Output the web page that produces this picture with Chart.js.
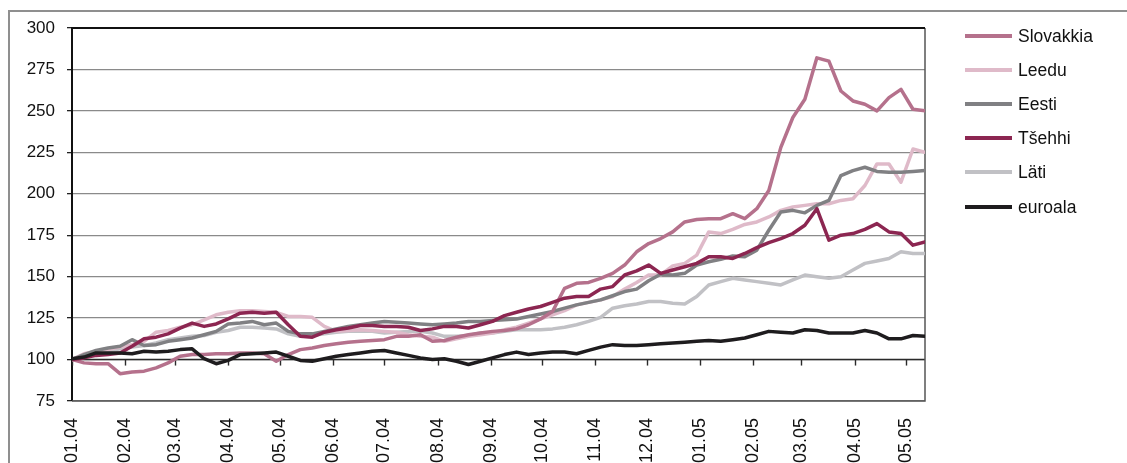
<!DOCTYPE html>
<html><head><meta charset="utf-8">
<script src="https://cdn.jsdelivr.net/npm/chart.js@4"></script>
<style>
html,body{margin:0;padding:0;background:#fff;width:1127px;height:463px;overflow:hidden;position:relative;}
#frame{position:absolute;left:8px;top:10px;width:1200px;height:500px;border-left:2px solid #8f8f8f;border-top:2px solid #8f8f8f;}
#wrap{position:absolute;left:0;top:0;width:1127px;height:463px;}
#legend{position:absolute;left:965px;top:0;font-family:"Liberation Sans",Arial,sans-serif;font-size:17.5px;color:#111;}
.item{position:absolute;left:0;height:20px;display:flex;align-items:center;white-space:nowrap;}
.sw{width:47px;height:4px;margin-right:6px;}
</style></head>
<body>
<div id="frame"></div>
<div id="wrap"><canvas id="c" width="1127" height="463"></canvas></div>
<div id="legend"></div>
<script>
const monthDays = [0,31,60,91,121,152,182,213,244,274,305,335,366,397,425,456,486];
const monthLabels = ['01.04','02.04','03.04','04.04','05.04','06.04','07.04','08.04','09.04','10.04','11.04','12.04','01.05','02.05','03.05','04.05','05.05'];
const days = [0,7,14,21,28,35,42,49,56,63,70,77,84,91,98,105,112,119,126,133,140,147,154,161,168,175,182,189,196,203,210,217,224,231,238,245,252,259,266,273,280,287,294,301,308,315,322,329,336,343,350,357,364,371,378,385,392,399,406,413,420,427,434,441,448,455,462,469,476,483,490,497];
const seriesNames = ['Slovakkia','Leedu','Eesti','Tšehhi','Läti','euroala'];
const slovakkia = [100,98,97.5,97.5,91.5,92.5,93,95, 98,102,103,103,103.5,103.5,104,104, 103.5,99,103,106,107,108.5,109.5,110.5, 111,111.5,112,114,114,115,111,111.5, 113.5,115,116,117,117.5,118.5,121,124.5, 129,143,146,146.5,149,152,157,165, 170,173,177,183,184.5,185,185,188, 185,191,202,228,246,257,282,280, 262,256,254,250,258,263,251,250];
const leedu = [100,103.5,105,106,107.5,109,111,116.5, 117.5,119.5,121,124,127,128.5,129.5,129.5, 129,128.5,126,126,125.5,120,117,117.5, 118,117.5,117,116.5,115,114,113.5,111, 112.5,114,115,116,118,119.5,122,124.5, 127,129.5,133,134.5,136,138,142.5,146.5, 151,151,156.5,158,163,177,176,178.5, 181.5,183,186,190,192,193,194,194, 196,197,205,218,218,207,227,225];
const eesti = [100,103,105.5,107,108,112,108.5,109, 111,112,113,115,117,121.5,122,123, 121,122,117,115.5,115.5,117,118.5,120, 121,122,123,122.5,122,121.5,121,121.5, 122,123,123,123.5,124,124.5,126,127.5, 129,131,133,134.5,136,138.5,141,142.5, 147.5,151.5,151,152,157,159,160.5,162.5, 162,166,178,189,190,188.5,193,196, 211,214,216,213.5,213,213,213.5,214];
const tsehhi = [100,101,102.5,103,104,108,112.5,113.5, 115.5,119,122,120,121.5,124.5,128,128.5, 128,128.5,121,114,113.5,116.5,118,119, 120.5,120.5,120,120,119.5,117.5,118.5,120, 120,119,121,123,126.5,128.5,130.5,132, 134.5,137,138,138,142.5,144,151,153.5, 157,152,154,156,158,162,162,161, 164,167.5,170.5,173,176,181,191,172, 175,176,178.5,182,177,176,169,171];
const lati = [100,102,104,105,106.5,107.5,108.5,110, 112,113,114,114.5,116.5,117.5,119.5,119.5, 119,118.5,115.5,114,114.5,115.5,116.5,117, 117,117,116,116.5,117,117,116,114, 114,114.5,116,116,117,118,118,118, 118.5,119.5,121,123,125.5,131,132.5,133.5, 135,135,134,133.5,138,145,147,149, 148,147,146,145,148,151,150,149, 150,154,158,159.5,161,165,164,164];
const euroala = [100.4,101.5,104,104,104,103.5,105,104.5, 105,106,106.5,100.5,97.5,99.5,103,103.5, 104,104.5,102,99.5,99,100.5,102,103, 104,105,105.5,104,102.5,101,100,100.5, 99,97,99,101,103,104.5,103,104, 104.5,104.5,103.5,105.5,107.5,109,108.5,108.5, 109,109.5,110,110.5,111,111.5,111,112, 113,115,117,116.5,116,118,117.5,116, 116,116,117.5,116,112.5,112.5,114.5,114];
const yTicks = [75,100,125,150,175,200,225,250,275,300];

const allValues = [slovakkia, leedu, eesti, tsehhi, lati, euroala];
const colors = ['#b5718c','#dfbac9','#808083','#8c2651','#c1c1c5','#1e1c1e'];
const orders = [2,4,3,1,5,0];

const datasets = seriesNames.map((n,i)=>({
  label:n,
  data: days.map((d,j)=>({x:d,y:allValues[i][j]})),
  borderColor: colors[i], backgroundColor: colors[i],
  borderWidth: 3.5, pointRadius: 0, tension: 0, order: orders[i],
  borderJoinStyle:'round', borderCapStyle:'round'
}));

const FONT = {family:'"Liberation Sans", Arial, sans-serif', size:17};
const XFONT = {family:'"Liberation Sans", Arial, sans-serif', size:18};

const extras = {
  id:'extras',
  beforeDatasetsDraw(chart){
    const {ctx, chartArea:a, scales:{x,y}} = chart;
    ctx.save();
    const y100 = y.getPixelForValue(100);
    ctx.strokeStyle = '#2a2a2a'; ctx.lineWidth = 1.4;
    ctx.beginPath(); ctx.moveTo(a.left, y100); ctx.lineTo(a.right, y100); ctx.stroke();
    monthDays.forEach(d=>{
      const px = Math.round(x.getPixelForValue(d)) + 0.5;
      ctx.beginPath(); ctx.moveTo(px, y100); ctx.lineTo(px, y100 + 6); ctx.stroke();
    });
    ctx.lineWidth = 1.5;
    ctx.strokeStyle = '#555';
    ctx.beginPath(); ctx.moveTo(a.right, a.top); ctx.lineTo(a.right, a.bottom); ctx.lineTo(a.left, a.bottom); ctx.stroke();
    ctx.strokeStyle = '#111'; ctx.lineWidth = 2;
    ctx.beginPath(); ctx.moveTo(a.left, a.top); ctx.lineTo(a.right, a.top); ctx.stroke();
    ctx.restore();
  }
};

new Chart(document.getElementById('c'), {
  type:'line',
  data:{datasets},
  plugins:[extras],
  options:{
    responsive:false, animation:false,
    layout:{padding:{left:0, top:28, right:202, bottom:0}},
    plugins:{legend:{display:false}, tooltip:{enabled:false}},
    scales:{
      x:{
        type:'linear', min:0, max:497,
        afterBuildTicks(s){ s.ticks = monthDays.map(v=>({value:v})); },
        afterFit(s){ s.height = 62; },
        ticks:{autoSkip:false, minRotation:90, maxRotation:90, padding:17, font:XFONT, color:'#111',
          callback:(v)=>{ const k = monthDays.indexOf(v); return k>=0 ? monthLabels[k] : ''; }},
        grid:{display:false, drawTicks:false},
        border:{display:false}
      },
      y:{
        min:75, max:300,
        afterBuildTicks(s){ s.ticks = yTicks.map(v=>({value:v})); },
        afterFit(s){ s.width = 72; },
        ticks:{padding:12, font:FONT, color:'#111'},
        grid:{color:'#8a8a8a', lineWidth:1.3, tickLength:5, tickColor:'#222'},
        border:{color:'#111', width:2}
      }
    }
  }
});

const lg = document.getElementById('legend');
const centers = [36,70,104,138,172,207];
seriesNames.forEach((n,i)=>{
  const it = document.createElement('div');
  it.className = 'item';
  it.style.top = (centers[i]-10)+'px';
  const sw = document.createElement('span'); sw.className='sw'; sw.style.background = colors[i];
  const tx = document.createElement('span'); tx.textContent = n;
  it.appendChild(sw); it.appendChild(tx); lg.appendChild(it);
});
</script>
</body></html>
